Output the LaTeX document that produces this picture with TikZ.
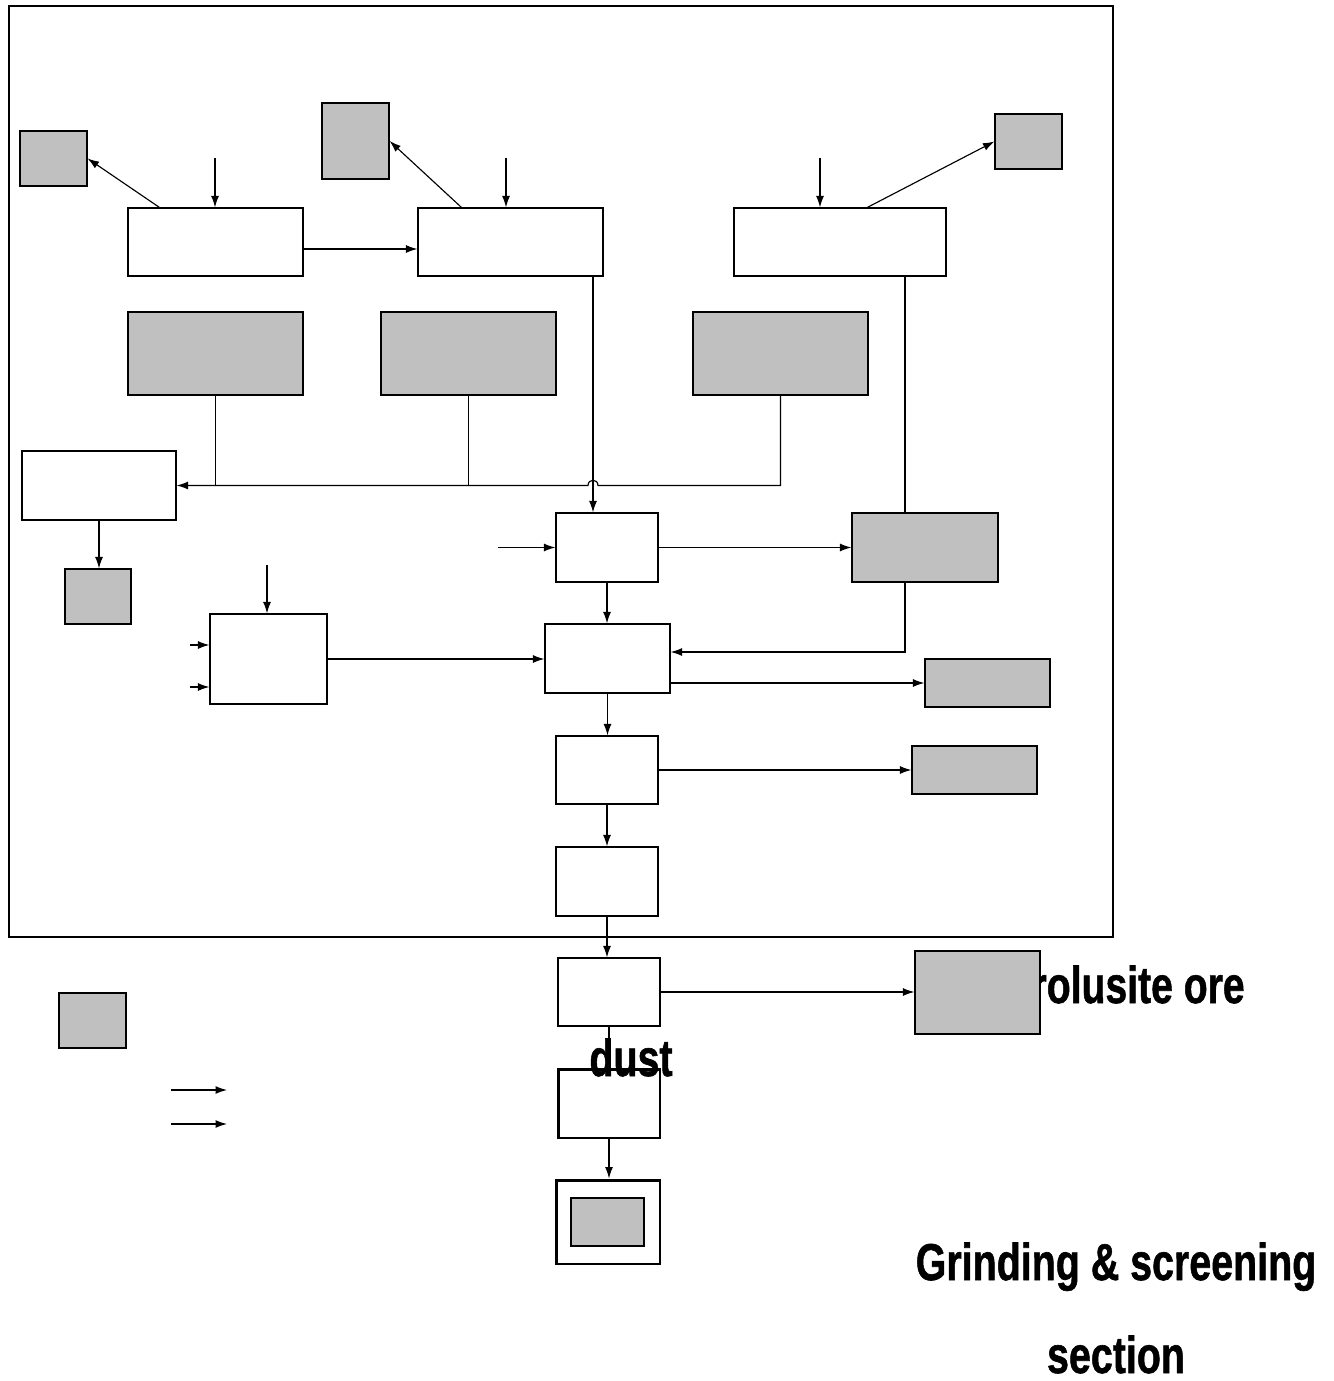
\documentclass[tikz,border=0pt]{standalone}
\usepackage{fontspec}
\setmainfont{Liberation Sans}
\newfontfamily\heavyfont{Liberation Sans}[BoldFeatures={FakeBold=1.2}]
\usetikzlibrary{arrows.meta,calc}
\definecolor{boxgray}{RGB}{192,192,192}
\newcommand{\biglbl}[2][0.76]{\scalebox{#1}[1]{\heavyfont\fontsize{29.5}{30}\selectfont\bfseries #2}}

\begin{document}
\begin{tikzpicture}[x=0.02cm, y=-0.02cm,
  wbox/.style={draw, fill=white, line width=0.7pt, inner sep=0pt},
  gbox/.style={draw, fill=boxgray, line width=0.7pt, inner sep=0pt},
  flow/.style={line width=0.65pt, -{Latex[length=6.5pt,width=4.5pt]}},
  link/.style={line width=0.65pt}]
\useasboundingbox (0,0) rectangle (1333,1381);

% plant boundary
\draw[line width=1.4pt] (9,6) rectangle (1113,937);

% labels
\node[anchor=base east, inner sep=0pt] (tpyro) at (1245,1003) {\biglbl[0.755]{Pyrolusite ore}};
\node[anchor=base, inner sep=0pt] (tdust) at (631,1076) {\biglbl{dust}};
\node[anchor=base, inner sep=0pt] (tgrind) at (1116,1280) {\biglbl{Grinding \& screening}};
\node[anchor=base, inner sep=0pt] (tsect) at (1116,1373) {\biglbl{section}};

% top row
\node[gbox, minimum width=1.34cm, minimum height=1.1cm] (G1) at (53.5,158.5) {};
\node[wbox, minimum width=3.5cm, minimum height=1.36cm] (W1) at (215.5,242) {};
\node[gbox, minimum width=1.34cm, minimum height=1.52cm] (G2) at (355.5,141) {};
\node[wbox, minimum width=3.7cm, minimum height=1.36cm] (W2) at (510.5,242) {};
\node[wbox, minimum width=4.24cm, minimum height=1.36cm] (W3) at (840,242) {};
\node[gbox, minimum width=1.34cm, minimum height=1.1cm] (G3) at (1028.5,141.5) {};

% second row
\node[gbox, minimum width=3.5cm, minimum height=1.66cm] (G4) at (215.5,353.5) {};
\node[gbox, minimum width=3.5cm, minimum height=1.66cm] (G5) at (468.5,353.5) {};
\node[gbox, minimum width=3.5cm, minimum height=1.66cm] (G6) at (780.5,353.5) {};

\node[wbox, minimum width=3.08cm, minimum height=1.38cm] (W4) at (99,485.5) {};
\node[gbox, minimum width=1.32cm, minimum height=1.1cm] (G7) at (98,596.5) {};

% main line
\node[wbox, minimum width=2.04cm, minimum height=1.38cm] (W5) at (607,547.5) {};
\node[gbox, minimum width=2.92cm, minimum height=1.38cm] (G8) at (925,547.5) {};
\node[wbox, minimum width=2.5cm, minimum height=1.38cm] (W6) at (607.5,658.5) {};
\node[wbox, minimum width=2.34cm, minimum height=1.8cm] (W7) at (268.5,659) {};
\node[gbox, minimum width=2.5cm, minimum height=0.96cm] (G9) at (987.5,683) {};
\node[wbox, minimum width=2.04cm, minimum height=1.36cm] (W8) at (607,770) {};
\node[gbox, minimum width=2.5cm, minimum height=0.96cm] (G10) at (974.5,770) {};
\node[wbox, minimum width=2.04cm, minimum height=1.38cm] (W9) at (607,881.5) {};
\node[wbox, minimum width=2.04cm, minimum height=1.36cm] (W10) at (609,992) {};
\node[gbox, minimum width=2.5cm, minimum height=1.66cm] (G11) at (977.5,992.5) {};
\node[wbox, line width=1.7pt, fill=none, minimum width=2.04cm, minimum height=1.38cm] (W11) at (609,1103.5) {};
\node[wbox, line width=1.7pt, minimum width=2.08cm, minimum height=1.68cm] (W12) at (608,1222) {};
\node[gbox, minimum width=1.46cm, minimum height=0.96cm] (G12) at (607.5,1222) {};

% legend
\node[gbox, minimum width=1.34cm, minimum height=1.1cm] (GL) at (92.5,1020.5) {};

% free ends
\coordinate (in1) at (215,158);
\coordinate (in2) at (506,158);
\coordinate (in3) at (820,158);
\coordinate (in4) at (498,547.5);
\coordinate (in5) at (267,565);
\coordinate (in6) at (190,645);
\coordinate (in7) at (190,687);
\coordinate (la1) at (171,1090);
\coordinate (la2) at (227,1090);
\coordinate (lb1) at (171,1124);
\coordinate (lb2) at (227,1124);
\coordinate (drop) at ($(W5.north)+(-14,0)$);
\coordinate (hop) at (drop |- W4.east);
\coordinate (g8top) at ([xshift=-0.4cm]G8.north);
\coordinate (g8bot) at ([xshift=-0.4cm]G8.south);

% connectors, top
\draw[flow] ([xshift=0.64cm]W1.north west) -- (G1.east);
\draw[flow] (in1) -- (in1 |- W1.north);
\draw[flow] ([yshift=-0.14cm]W1.east) -- ([yshift=-0.14cm]W2.west);
\draw[flow] ([xshift=0.88cm]W2.north west) -- (G2.east);
\draw[flow] (in2) -- (in2 |- W2.north);
\draw[flow] (in3) -- (in3 |- W3.north);
\draw[flow] ([xshift=2.68cm]W3.north west) -- (G3.west);

% collecting line
\draw[link] (G4.south) -- (G4.south |- W4.east);
\draw[link] (G5.south) -- (G5.south |- W4.east);
\draw[flow] (G6.south) -- (G6.south |- W4.east) -- ($(hop)+(5,0)$)
  .. controls ($(hop)+(5,-7)$) and ($(hop)+(-5,-7)$) .. ($(hop)+(-5,0)$) -- (W4.east);
\draw[flow] (W4.south) -- (W4.south |- G7.north);

% main line
\draw[flow] (drop |- W2.south) -- (drop);
\draw[flow] (in4) -- (W5.west);
\draw[flow] (W5.east) -- (G8.west);
\draw[link] (g8top |- W3.south) -- (g8top);
\draw[flow] (g8bot) |- ([yshift=0.13cm]W6.east);
\draw[flow] (W5.south) -- (W5.south |- W6.north);
\draw[flow] (in5) -- (in5 |- W7.north);
\draw[flow] (in6) -- (in6 -| W7.west);
\draw[flow] (in7) -- (in7 -| W7.west);
\draw[flow] (W7.east) -- (W7.east -| W6.west);
\draw[flow] (G9.west -| W6.east) -- (G9.west);
\draw[flow] (W6.south) -- (W6.south |- W8.north);
\draw[flow] (W8.east) -- (G10.west);
\draw[flow] (W8.south) -- (W9.north);
\draw[flow] (W9.south) -- (W9.south |- W10.north);
\draw[flow] (W10.east) -- (W10.east -| G11.west);
\draw[link] (W10.south) -- (W11.north);
\draw[flow] (W11.south) -- (W11.south |- W12.north);

% legend arrows
\draw[flow] (la1) -- (la2);
\draw[flow] (lb1) -- (lb2);
\end{tikzpicture}
\end{document}
